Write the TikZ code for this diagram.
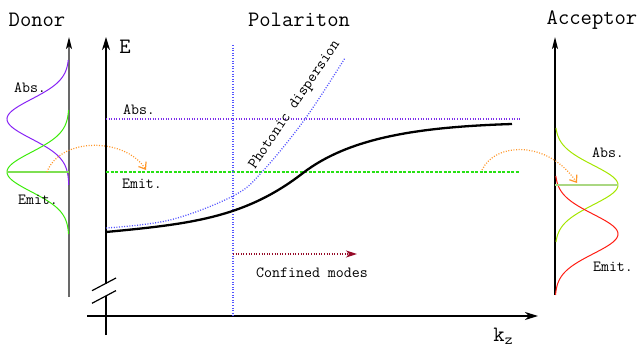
\documentclass[tikz,border=0pt]{standalone}
\usetikzlibrary{arrows.meta}
\definecolor{dabs}{RGB}{135,35,245}
\definecolor{demit}{RGB}{60,235,10}
\definecolor{absline}{RGB}{125,45,235}
\definecolor{emitline}{RGB}{40,225,20}
\definecolor{bluedot}{RGB}{85,85,255}
\definecolor{aabs}{RGB}{165,230,0}
\definecolor{aemit}{RGB}{255,30,20}
\definecolor{ahor}{RGB}{170,215,130}
\definecolor{oran}{RGB}{255,150,40}
\definecolor{dred}{RGB}{150,10,40}
\definecolor{axgray}{RGB}{105,105,105}
\begin{document}
\begin{tikzpicture}[x=1pt,y=-1pt,font=\ttfamily\fontsize{15.5}{18}\selectfont,
  big/.style={font=\ttfamily\fontsize{22}{26}\selectfont},
  axis/.style={line width=1.6pt,-{Stealth[length=13pt,width=8pt,inset=4pt]}},
  spec/.style={line width=1pt},
  dots/.style={line width=1.3pt,dash pattern=on 1pt off 1.6pt},
  transfer/.style={oran,line width=1.2pt,dash pattern=on 1pt off 1.6pt,-{Straight Barb[length=6pt,width=9pt]}}]
\useasboundingbox (0,0) rectangle (641,345);
% ---------- Donor ----------
\node[big] (donor) at (37,20) {Donor};
\coordinate (dB) at (69,297); \coordinate (dT) at (69,37);
\draw[axgray,line width=1.4pt,-{Stealth[length=12pt,width=6pt,inset=3pt,color=black]}] (dB)--(dT);
\draw[dabs,spec] plot[domain=60:185,samples=120,variable=\t] ({69-62*exp(-(((\t-119)/28)^2))},{\t});
\draw[demit,spec] plot[domain=110:234,samples=120,variable=\t] ({69-62*exp(-(((\t-172)/28)^2))},{\t});
\coordinate (dL) at (7,172); \coordinate (dR) at (69,172);
\draw[ahor!60!demit,line width=1.1pt] (dL)--(dR);
\node (dabslab) at (30,88) {Abs.};
\node (demitlab) at (38,200) {Emit.};
\coordinate (o1s) at (47,172); \coordinate (o1e) at (146,170);
\draw[transfer] (o1s) .. controls (60,137) and (125,137) .. (o1e);
% ---------- Main axes ----------
\coordinate (E0) at (106,335); \coordinate (Eb1) at (106,296);
\coordinate (Eb2) at (106,283.5); \coordinate (ET) at (106,37);
\draw[line width=1.6pt] (E0)--(Eb1);
\draw[axis] (Eb2)--(ET);
\draw[line width=1.2pt] (92,290.7)--(116,278); \draw[line width=1.2pt] (92,303.3)--(116,290.6);
\coordinate (K0) at (87,316); \coordinate (KT) at (538,316);
\draw[axis] (K0)--(KT);
\node[font=\ttfamily\fontsize{22}{26}\selectfont] (E) at (125,47) {E};
\node[font=\ttfamily\fontsize{22}{26}\selectfont,anchor=base] (kz) at (503,341) {k\raisebox{-0.35ex}{\fontsize{15}{17}\selectfont z}};
\node[big] (pol) at (299,20) {Polariton};
% levels
\coordinate (A0) at (106,119); \coordinate (A1) at (520,119);
\draw[absline,dots] (A0)--(A1);
\coordinate (M0) at (106,172); \coordinate (M1) at (520,172);
\draw[emitline,line width=1.3pt,dash pattern=on 3pt off 1.5pt] (M0)--(M1);
\node (abslab) at (139,110) {Abs.};
\node (emitlab) at (142,184) {Emit.};
% vertical blue dotted
\coordinate (V0) at (233,45); \coordinate (V1) at (233,316);
\draw[bluedot,dots] (V0)--(V1);
% photonic dispersion
\draw[bluedot,dots] plot[smooth,tension=0.6] coordinates {(106,228) (170,220) (233,196) (262,172) (305,119) (345,58)};
\node[rotate=56] (phot) at (295,105) {Photonic dispersion};
% polariton
\draw[line width=2.3pt] (106,232) .. controls (190,224) and (245,218) .. (303,173) .. controls (350,137) and (420,127) .. (512,124);
% confined modes
\coordinate (C0) at (233,254); \coordinate (C1) at (357,254);
\draw[dred,dots,-{Stealth[length=11pt,width=7pt,inset=3pt]}] (C0)--(C1);
\node (conf) at (312,273) {Confined modes};
% ---------- Acceptor ----------
\node[big] (acc) at (592,20) {Acceptor};
\coordinate (aB) at (555,295); \coordinate (aT) at (555,37);
\draw[line width=1.3pt,-{Stealth[length=12pt,width=6pt,inset=3pt]}] (aB)--(aT);
\draw[aabs,spec] plot[domain=128:242,samples=120,variable=\t] ({555+63*exp(-(((\t-185)/28)^2))},{\t});
\draw[aemit,spec] plot[domain=176:295,samples=120,variable=\t] ({555+63*exp(-(((\t-234)/28)^2))},{\t});
\coordinate (aL) at (555,185); \coordinate (aR) at (618,185);
\draw[ahor,line width=1.8pt] (aL)--(aR);
\node (aabslab) at (608,153) {Abs.};
\node (aemitlab) at (613,267) {Emit.};
\coordinate (o2s) at (482,170); \coordinate (o2e) at (577,183);
\draw[transfer] (o2s) .. controls (495,142) and (548,140) .. (o2e);
\end{tikzpicture}
\end{document}
